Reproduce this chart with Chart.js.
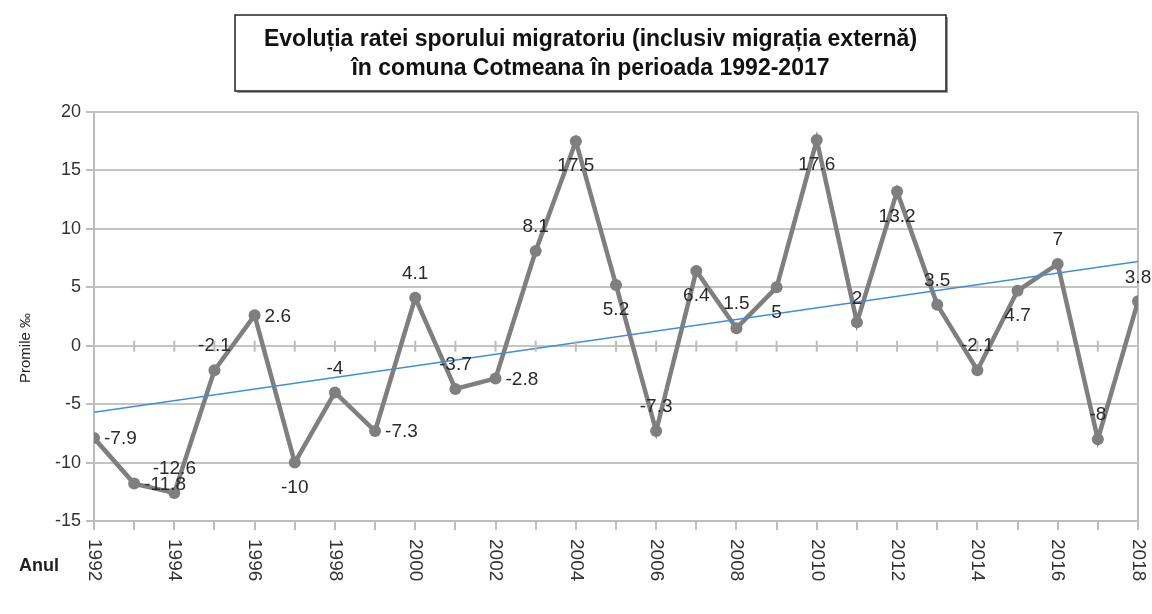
<!DOCTYPE html>
<html>
<head>
<meta charset="utf-8">
<script src="https://cdn.jsdelivr.net/npm/chart.js@4.4.1/dist/chart.umd.min.js"></script>
<style>
  html, body { margin: 0; padding: 0; background: #ffffff; }
  #wrap { width: 1152px; height: 614px; position: relative; }
</style>
</head>
<body>
<div id="wrap"><canvas id="c" width="1152" height="614"></canvas></div>
<script>
// ---- Data ----
const years = [1992,1993,1994,1995,1996,1997,1998,1999,2000,2001,2002,2003,2004,2005,2006,2007,2008,2009,2010,2011,2012,2013,2014,2015,2016,2017,2018];
const rates = [-7.9,-11.8,-12.6,-2.1,2.6,-10,-4,-7.3,4.1,-3.7,-2.8,8.1,17.5,5.2,-7.3,6.4,1.5,5,17.6,2,13.2,3.5,-2.1,4.7,7,-8,3.8];
const trendYears = [1992, 2018];
const trendValues = [-5.7, 7.2];
const yTicks = [-15,-10,-5,0,5,10,15,20];
const titleLines = ['Evoluția ratei sporului migratoriu (inclusiv migrația externă)', 'în comuna Cotmeana în perioada 1992-2017'];
const yAxisTitle = 'Promile ‰';
const xAxisTitle = 'Anul';

// label placement per point (style, not data): r = right, a = above, b = below
const labelPlace = ['r','r','a','a','r','b','a','r','a','a','r','a','b','b','a','b','a','b','b','a','b','a','a','b','a','a','a'];

const FONT = '"Liberation Sans", Arial, sans-serif';

const decorPlugin = {
  id: 'decor',
  afterDraw(chart) {
    const ctx = chart.ctx;
    const xs = chart.scales.x, ys = chart.scales.y;
    ctx.save();
    // small x-axis ticks at the zero line
    ctx.strokeStyle = '#bdbdbd';
    ctx.lineWidth = 2;
    const y0 = ys.getPixelForValue(0);
    years.forEach(yr => {
      const px = xs.getPixelForValue(yr);
      ctx.beginPath(); ctx.moveTo(px, y0 - 5); ctx.lineTo(px, y0 + 6); ctx.stroke();
    });
    // x tick labels rotated clockwise
    ctx.fillStyle = '#333333';
    ctx.font = '19px ' + FONT;
    ctx.textAlign = 'left';
    ctx.textBaseline = 'middle';
    years.forEach(yr => {
      if (yr % 2 !== 0) return;
      const px = xs.getPixelForValue(yr);
      ctx.save();
      ctx.translate(px, ys.bottom + 18);
      ctx.rotate(Math.PI / 2);
      ctx.fillText(String(yr), 0, 0);
      ctx.restore();
    });
    // axis titles
    ctx.font = 'bold 18px ' + FONT;
    ctx.fillStyle = '#222222';
    ctx.textAlign = 'left';
    ctx.fillText(xAxisTitle, 19, 566);
    ctx.save();
    ctx.translate(26, 348);
    ctx.rotate(-Math.PI / 2);
    ctx.font = '15px ' + FONT;
    ctx.textAlign = 'center';
    ctx.fillText(yAxisTitle, 0, 0);
    ctx.restore();

    // title box
    const bx = 235, by = 15, bw = 711, bh = 76;
    ctx.fillStyle = '#9a9a9a';
    ctx.fillRect(bx + 2, by + 2, bw, bh);
    ctx.fillStyle = '#ffffff';
    ctx.fillRect(bx, by, bw, bh);
    ctx.strokeStyle = '#222222';
    ctx.lineWidth = 1.5;
    ctx.strokeRect(bx, by, bw, bh);
    ctx.fillStyle = '#111111';
    ctx.font = 'bold 23px ' + FONT;
    ctx.textAlign = 'center';
    ctx.textBaseline = 'middle';
    const w1 = ctx.measureText(titleLines[0]).width;
    const sx = Math.min(1, 704 / w1);
    const cx = bx + bw / 2;
    [40, 69].forEach((ty, i) => {
      ctx.save();
      ctx.translate(cx, ty);
      ctx.scale(sx, 1);
      ctx.fillText(titleLines[i], 0, 0);
      ctx.restore();
    });
    ctx.restore();
  },
  afterDatasetsDraw(chart) {
    const ctx = chart.ctx;
    const meta = chart.getDatasetMeta(0);
    ctx.save();
    ctx.font = '19px ' + FONT;
    ctx.fillStyle = '#2a2a2a';
    meta.data.forEach((pt, i) => {
      const p = labelPlace[i];
      const txt = String(rates[i]);
      if (p === 'r') {
        ctx.textAlign = 'left'; ctx.textBaseline = 'middle';
        ctx.fillText(txt, pt.x + 10, pt.y + 1);
      } else if (p === 'a') {
        ctx.textAlign = 'center'; ctx.textBaseline = 'middle';
        ctx.fillText(txt, pt.x, pt.y - 24);
      } else {
        ctx.textAlign = 'center'; ctx.textBaseline = 'middle';
        ctx.fillText(txt, pt.x, pt.y + 25);
      }
    });
    ctx.restore();
  }
};

new Chart(document.getElementById('c'), {
  type: 'line',
  data: {
    datasets: [
      {
        label: 'Rata sporului migratoriu',
        data: years.map((y, i) => ({ x: y, y: rates[i] })),
        borderColor: '#7f7f7f',
        backgroundColor: '#7f7f7f',
        borderWidth: 4.5,
        pointRadius: 6,
        pointBackgroundColor: '#7f7f7f',
        pointBorderWidth: 0,
        tension: 0,
        order: 2
      },
      {
        label: 'Trend',
        data: trendYears.map((y, i) => ({ x: y, y: trendValues[i] })),
        borderColor: '#3d8fd6',
        borderWidth: 1.5,
        pointRadius: 0,
        tension: 0,
        order: 1
      }
    ]
  },
  options: {
    responsive: false,
    animation: false,
    events: [],
    layout: { padding: { left: 0, right: 14, top: 112, bottom: 0 } },
    plugins: { legend: { display: false }, tooltip: { enabled: false }, title: { display: false } },
    scales: {
      x: {
        type: 'linear',
        min: 1992, max: 2018,
        afterBuildTicks: (scale) => { scale.ticks = years.map(v => ({ value: v })); },
        afterFit: (scale) => { scale.height = 614 - 521 - 0; },
        ticks: { display: false },
        grid: {
          color: (c) => (c.tick && (c.tick.value === 1992 || c.tick.value === 2018)) ? '#bdbdbd' : 'rgba(0,0,0,0)',
          tickColor: '#bdbdbd',
          lineWidth: 2,
          tickLength: 9,
          drawOnChartArea: true
        },
        border: { display: true, color: '#bdbdbd', width: 2 }
      },
      y: {
        min: -15, max: 20,
        afterBuildTicks: (scale) => { scale.ticks = yTicks.map(v => ({ value: v })); },
        afterFit: (scale) => { scale.width = 94; },
        ticks: { color: '#333333', font: { size: 18, family: FONT }, padding: 5 },
        grid: { color: '#c4c4c4', lineWidth: 2, tickLength: 8, tickColor: '#bdbdbd' },
        border: { display: true, color: '#bdbdbd', width: 2 }
      }
    }
  },
  plugins: [decorPlugin]
});
</script>
</body>
</html>
